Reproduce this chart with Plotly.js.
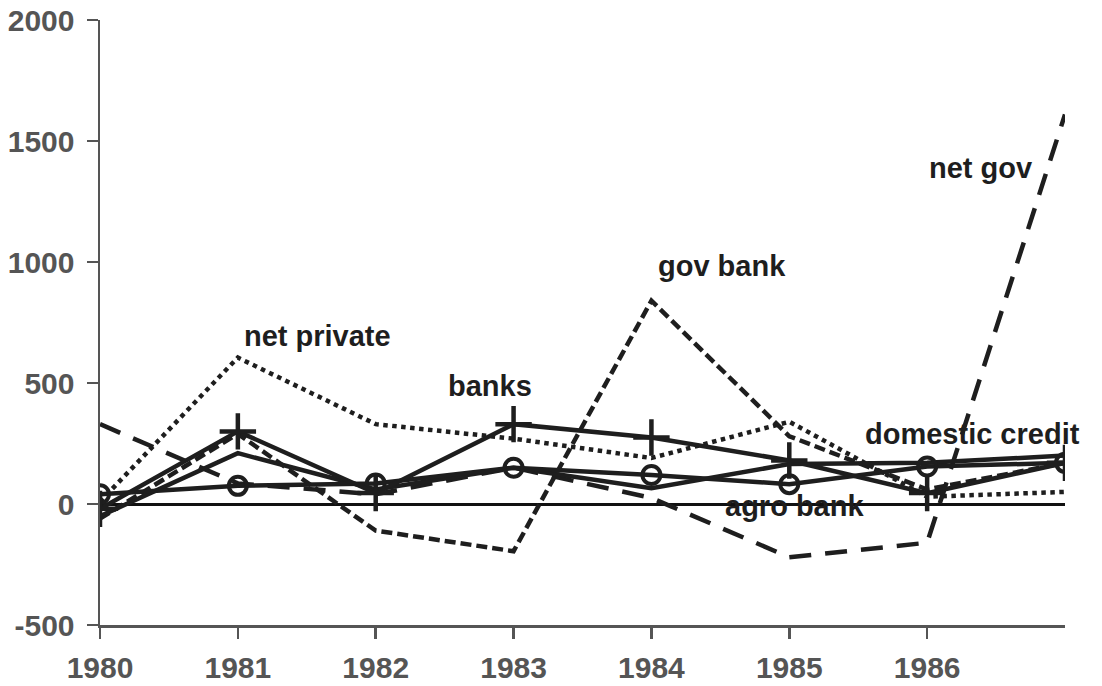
<!DOCTYPE html>
<html>
<head>
<meta charset="utf-8">
<script src="https://cdn.plot.ly/plotly-3.0.1.min.js"></script>
<style>html,body{margin:0;padding:0;background:#fff;}#chart{width:1102px;height:686px;}</style>
</head>
<body>
<div id="chart"></div>
<script>
const years = [1980, 1981, 1982, 1983, 1984, 1985, 1986, 1987];
const tickYears = [1980, 1981, 1982, 1983, 1984, 1985, 1986];
const tickLabels = ["1980", "1981", "1982", "1983", "1984", "1985", "1986"];
const yTickVals = [-500, 0, 500, 1000, 1500, 2000];
const yTickLabels = ["-500", "0", "500", "1000", "1500", "2000"];

const netPrivate = [10, 605, 330, 270, 190, 340, 30, 50];
const netGov = [330, 85, 40, 150, 25, -220, -160, 1610];
const govBank = [-60, 290, -110, -195, 840, 280, 60, 170];
const banks = [-20, 300, 45, 330, 275, 180, 45, 170];
const agroBank = [40, 75, 85, 150, 120, 82, 155, 170];
const domesticCredit = [-50, 210, 60, 150, 65, 165, 170, 200];

const labelNames = ["net private", "banks", "gov bank", "net gov", "domestic credit", "agro bank"];
const labelX = [1981.58, 1982.83, 1984.51, 1986.39, 1986.33, 1985.04];
const labelY = [695, 488, 985, 1387, 290, -8];

const ink = "#1e1e1e";
const fontFam = "Liberation Sans, Arial, sans-serif";
const traces = [
  {x: years, y: netPrivate, mode: "lines", line: {color: ink, width: 4.5, dash: "4.5px,4.5px"}},
  {x: years, y: netGov, mode: "lines", line: {color: ink, width: 4.5, dash: "22px,14px"}},
  {x: years, y: govBank, mode: "lines", line: {color: ink, width: 4.5, dash: "11px,5px"}},
  {x: years, y: domesticCredit, mode: "lines", line: {color: ink, width: 4.5}},
  {x: years, y: agroBank, mode: "lines+markers", line: {color: ink, width: 4.5},
   marker: {symbol: "circle-open", size: 18, color: ink, line: {width: 4, color: ink}}},
  {x: years, y: banks, mode: "lines+markers", line: {color: ink, width: 4.5},
   marker: {symbol: "cross-thin-open", size: 26, color: ink, line: {width: 4.5, color: ink}}}
];

const annotations = labelNames.map((t, i) => ({
  x: labelX[i], y: labelY[i], xref: "x", yref: "y", text: t, showarrow: false,
  font: {family: fontFam, size: 29, color: ink, weight: "bold"}
}));

const layout = {
  width: 1102, height: 686,
  margin: {l: 100, r: 37, t: 20, b: 61, pad: 0},
  paper_bgcolor: "#fff", plot_bgcolor: "#fff",
  showlegend: false,
  xaxis: {
    range: [1980, 1987], tickvals: tickYears, ticktext: tickLabels,
    showgrid: false, zeroline: false, showline: true, linecolor: "#555", linewidth: 2.5,
    ticks: "outside", ticklen: 11, tickwidth: 2.5, tickcolor: "#555", ticklabelstandoff: 3,
    tickfont: {family: fontFam, size: 30, color: "#555", weight: "bold"}
  },
  yaxis: {
    range: [-500, 2000], tickvals: yTickVals, ticktext: yTickLabels,
    showgrid: false, zeroline: true, zerolinecolor: "#111", zerolinewidth: 3,
    showline: true, linecolor: "#555", linewidth: 2.5,
    ticks: "outside", ticklen: 11, tickwidth: 2.5, tickcolor: "#555", ticklabelstandoff: 6,
    tickfont: {family: fontFam, size: 30, color: "#555", weight: "bold"}
  },
  annotations: annotations
};

Plotly.newPlot("chart", traces, layout, {displayModeBar: false, staticPlot: true});
</script>
</body>
</html>
